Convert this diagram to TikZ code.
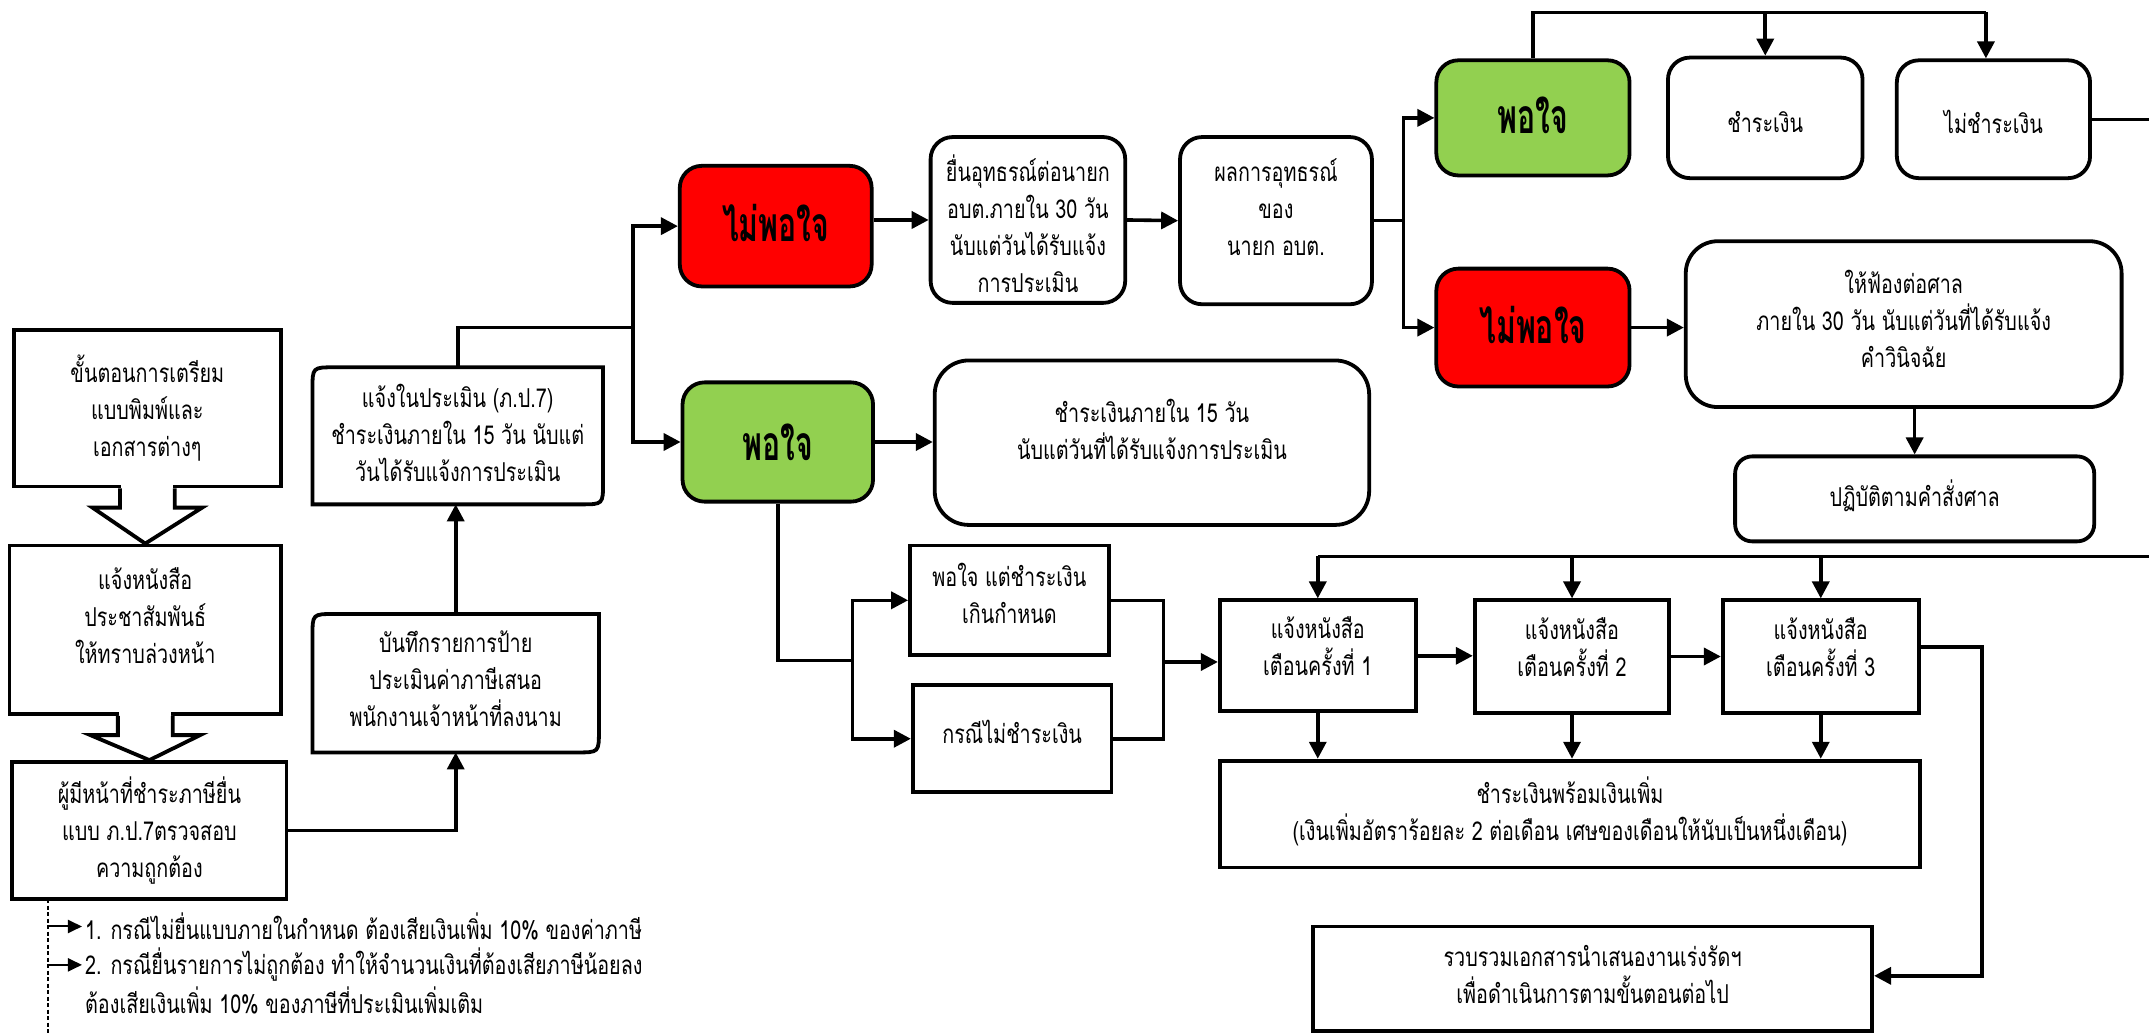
\documentclass[tikz,border=0pt]{standalone}
\usepackage{fontspec}
\usetikzlibrary{arrows.meta,calc}
\newfontfamily\thaif[Script=Thai,FakeStretch=0.76]{Loma}
\newfontfamily\thaib[Script=Thai,FakeStretch=0.63]{Loma}
\definecolor{myred}{HTML}{FF0000}
\definecolor{mygreen}{HTML}{92D050}
\tikzset{
  sq/.style={draw, line width=3.8pt, fill=white, inner sep=0pt},
  rd/.style={sq, rounded corners=22pt},
  ghost/.style={draw=none, inner sep=0pt, outer sep=0pt},
  redb/.style={rd, fill=myred},
  grnb/.style={rd, fill=mygreen},
  txt/.style={inner sep=0pt, align=center, font=\thaif\fontsize{26}{37}\selectfont},
  btxt/.style={inner sep=0pt, align=center, font=\thaib\bfseries\fontsize{48}{52}\selectfont},
  ln/.style={line width=3.6pt},
  thinln/.style={line width=2.6pt},
  arr/.style={ln, -{Triangle[length=17pt,width=17pt]}},
  sarr/.style={line width=2pt, -{Triangle[length=14pt,width=13pt]}},
  outline/.style={line width=3.8pt},
}
% \mkbox[textstyle]{name}{x1}{y1}{x2}{y2}{boxstyle}{text shift}{text}
\newcommand\mkbox[9][txt]{%
  \node[#7, minimum width={(#5-#3)*1.3705pt}, minimum height={(#6-#4)*1.3705pt}] (#2) at ({(#3+#5)/2},{(#4+#6)/2}) {};
  \node[#1] (#2t) at ([yshift={-(#8)*1.3705pt}]#2.center) {#9};
}
\newcommand\cutbox[1]{\draw[outline] (#1.south west) -- ([yshift=-22pt]#1.north west) .. controls (#1.north west) .. ([xshift=22pt]#1.north west) -- (#1.north east) -- ([yshift=22pt]#1.south east) .. controls (#1.south east) .. ([xshift=-22pt]#1.south east) -- cycle;}
\newcommand\blockarrow[2]{%
  \fill[white] ($(#1.south)+(-19,-3)$) rectangle ($(#1.south)+(19,13)$);
  \draw[outline, fill=white, line join=miter] ($(#1.south)+(-20,0)$) -- ($(#1.south)+(-20,14)$) -- ($(#1.south)+(-40,14)$) -- (#2.north) -- ($(#1.south)+(40,14)$) -- ($(#1.south)+(20,14)$) -- ($(#1.south)+(20,0)$);
}
\begin{document}
\begin{tikzpicture}[x=1.3705pt,y=-1.3705pt]
\useasboundingbox (0,0) rectangle (1568,755);
\fill[white] (0,0) rectangle (1568,755);

% left column
\mkbox{A}{10}{241}{205}{355}{sq}{0}{ขั้นตอนการเตรียม\\แบบพิมพ์และ\\เอกสารต่างๆ}
\mkbox{B}{7}{398}{205}{521}{sq}{-10}{แจ้งหนังสือ\\ประชาสัมพันธ์\\ให้ทราบล่วงหน้า}
\mkbox{C}{9}{556}{209}{656}{sq}{0}{ผู้มีหน้าที่ชำระภาษียื่น\\แบบ ภ.ป.7ตรวจสอบ\\ความถูกต้อง}
\blockarrow{A}{B}
\blockarrow{B}{C}

% notice boxes
\mkbox{D}{228}{268}{440}{368}{ghost}{-2}{แจ้งในประเมิน (ภ.ป.7)\\ชำระเงินภายใน 15 วัน นับแต่\\วันได้รับแจ้งการประเมิน}
\cutbox{D}
\mkbox{E}{228}{448}{437}{549}{ghost}{-3}{บันทึกรายการป้าย\\ประเมินค่าภาษีเสนอ\\พนักงานเจ้าหน้าที่ลงนาม}
\cutbox{E}

% decision boxes
\mkbox[btxt]{F}{496}{121}{636}{209}{redb}{-2}{ไม่พอใจ}
\mkbox[btxt]{G}{498}{279}{637}{366}{grnb}{0}{พอใจ}
\mkbox{H}{679}{100}{821}{221}{rd}{3}{ยื่นอุทธรณ์ต่อนายก\\อบต.ภายใน 30 วัน\\นับแต่วันได้รับแจ้ง\\การประเมิน}
\mkbox{I}{861}{100}{1001}{222}{rd}{-10}{ผลการอุทธรณ์\\ของ\\นายก อบต.}
\mkbox[btxt]{J}{1048}{44}{1189}{128}{grnb}{-2}{พอใจ}
\mkbox{L}{1217}{42}{1359}{130}{rd}{3}{ชำระเงิน}
\mkbox{M}{1384}{44}{1525}{130}{rd}{2}{ไม่ชำระเงิน}
\mkbox[btxt]{K}{1048}{196}{1189}{282}{redb}{-2}{ไม่พอใจ}
\mkbox{N}{1230}{176}{1548}{297}{rd,rounded corners=32pt}{-4}{ให้ฟ้องต่อศาล\\ภายใน 30 วัน นับแต่วันที่ได้รับแจ้ง\\คำวินิจฉัย}
\mkbox{O}{1266}{333}{1528}{395}{rd,rounded corners=17pt}{-2}{ปฏิบัติตามคำสั่งศาล}
\mkbox{Q}{682}{263}{999}{383}{rd,rounded corners=34pt}{-10}{ชำระเงินภายใน 15 วัน\\นับแต่วันที่ได้รับแจ้งการประเมิน}

% lower flow
\mkbox{R1}{664}{398}{809}{478}{sq}{-5}{พอใจ แต่ชำระเงิน\\เกินกำหนด}
\mkbox{R2}{666}{500}{811}{578}{sq}{-5}{กรณีไม่ชำระเงิน}
\mkbox{P1}{890}{438}{1033}{519}{sq}{-7}{แจ้งหนังสือ\\เตือนครั้งที่ 1}
\mkbox{P2}{1076}{438}{1218}{520}{sq}{-7}{แจ้งหนังสือ\\เตือนครั้งที่ 2}
\mkbox{P3}{1257}{438}{1400}{520}{sq}{-7}{แจ้งหนังสือ\\เตือนครั้งที่ 3}
\mkbox{S}{890}{555}{1401}{633}{sq}{-2}{ชำระเงินพร้อมเงินเพิ่ม\\(เงินเพิ่มอัตราร้อยละ 2 ต่อเดือน เศษของเดือนให้นับเป็นหนึ่งเดือน)}
\mkbox{T}{958}{676}{1366}{752}{sq}{-3}{รวบรวมเอกสารนำเสนองานเร่งรัดฯ\\เพื่อดำเนินการตามขั้นตอนต่อไป}

% junction coordinates
\coordinate (j1) at (462,239);
\coordinate (j2) at (1024,161);
\coordinate (jtop) at (1449,9);
\coordinate (eR) at (1568,0);
\coordinate (pr) at (1568,406);
\coordinate (j3) at (622,482);
\coordinate (j4) at (849,483);
\coordinate (j5) at (1446,472);
\coordinate (j6) at (1446,712);

% connectors
\draw[arr] (C.east) -| (E.south);
\draw[arr] (E.north) -- (E.north |- D.south);
\draw[ln] (D.north) |- (j1);
\draw[arr] (j1) |- (F.west);
\draw[arr] (j1) |- (G.west);
\draw[arr] (F.east |- H.west) -- (H.west);
\draw[arr] (H.east) -- (I.west);
\draw[thinln] (I.east) -- (j2);
\draw[arr] (j2) |- (J.west);
\draw[arr] (j2) |- (K.west);
\draw[ln] (J.north) |- (jtop);
\draw[arr] (jtop) -- (jtop |- M.north);
\draw[arr] (L.north |- jtop) -- (L.north);
\draw[thinln] (M.east) -- (M.east -| eR);
\draw[arr] (K.east) -- (N.west |- K.east);
\draw[arr] (O.north |- N.south) -- (O.north);
\draw[ln] (pr) -- (P1.north |- pr);
\draw[arr] (P1.north |- pr) -- (P1.north);
\draw[arr] (P2.north |- pr) -- (P2.north);
\draw[arr] (P3.north |- pr) -- (P3.north);
\draw[arr] (G.east) -- (Q.west |- G.east);
\draw[ln] (G.south) |- (j3);
\draw[arr] (j3) |- (R1.west);
\draw[arr] (j3) |- (R2.west);
\draw[ln] (R1.east) -| (j4);
\draw[ln] (R2.east) -| (j4);
\draw[arr] (j4) -- (P1.west |- j4);
\draw[arr] (P1.east) -- (P2.west |- P1.east);
\draw[arr] (P2.east) -- (P3.west |- P2.east);
\draw[arr] (P1.south) -- (P1.south |- S.north);
\draw[arr] (P2.south) -- (P2.south |- S.north);
\draw[arr] (P3.south) -- (P3.south |- S.north);
\draw[arr] (P3.east |- j5) -- (j5) -- (j6) -- (T.east |- j6);

% notes
\coordinate (d0) at (35,656);
\coordinate (d9) at (35,755);
\draw[line width=1.2pt, dash pattern=on 4pt off 2.5pt] (d0) -- (d9);
\node[txt, anchor=west] (n1) at (62,676) {1. กรณีไม่ยื่นแบบภายในกำหนด ต้องเสียเงินเพิ่ม 10\% ของค่าภาษี};
\node[txt, anchor=west] (n2) at (62,704) {2. กรณียื่นรายการไม่ถูกต้อง ทำให้จำนวนเงินที่ต้องเสียภาษีน้อยลง};
\node[txt, anchor=west] (n3) at (62,730) {ต้องเสียเงินเพิ่ม 10\% ของภาษีที่ประเมินเพิ่มเติม};
\draw[sarr, shorten >=3pt] (35,676) -- (n1.west);
\draw[sarr, shorten >=3pt] (35,704) -- (n2.west);
\end{tikzpicture}
\end{document}
